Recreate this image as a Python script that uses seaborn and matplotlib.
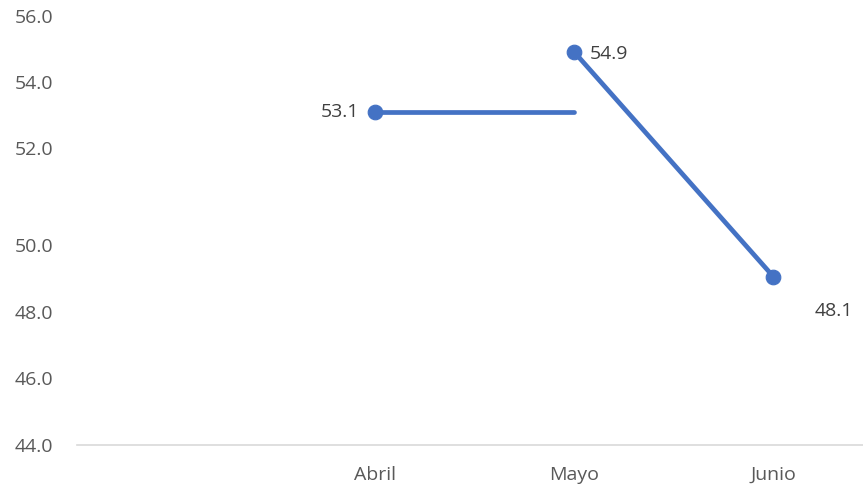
import matplotlib
matplotlib.use("Agg")
import matplotlib.pyplot as plt
import seaborn as sns
import pandas as pd

# datos del grafico
categorias = ["", "Abril", "Mayo", "Junio"]
meses = ["Abril", "Mayo", "Junio"]
valores = [53.1, 54.9, 48.1]
# etiquetas del eje y tal como aparecen en la imagen
etiquetas_y = ["56.0", "54.0", "52.0", "50.0", "48.0", "46.0", "44.0"]
posiciones_y = [56.0, 54.0, 52.0, 49.06, 47.03, 45.03, 43.0]

azul = "#4472C4"
gris = "#595959"

sns.set_theme(style="white")
plt.rcParams["font.family"] = ["Open Sans", "DejaVu Sans"]

idx = {c: i for i, c in enumerate(categorias)}
x_mes = [idx[m] for m in meses]

# tramo 1: Abril -> Mayo (horizontal al valor de Abril), tramo 2: Mayo -> Junio
df = pd.DataFrame({
    "x": [x_mes[0], x_mes[1], x_mes[1], x_mes[2]],
    "y": [valores[0], valores[0], valores[1], valores[2]],
    "tramo": ["a", "a", "b", "b"],
})

fig = plt.figure(figsize=(8.63, 4.88), dpi=100)
ax = fig.add_axes([77 / 863, 43 / 488, 1 - 77 / 863, 1 - 43 / 488])

sns.lineplot(data=df, x="x", y="y", units="tramo", estimator=None,
             color=azul, linewidth=3.4, ax=ax, legend=False)
sns.scatterplot(x=x_mes, y=valores, color=azul, s=110, edgecolor=azul,
                zorder=5, ax=ax, legend=False)

# etiquetas de datos
ax.annotate(f"{valores[0]:.1f}", (x_mes[0], valores[0]), xytext=(-12, 0),
            textcoords="offset points", ha="right", va="center", fontsize=14, color="#404040")
ax.annotate(f"{valores[1]:.1f}", (x_mes[1], valores[1]), xytext=(11, -1),
            textcoords="offset points", ha="left", va="center", fontsize=14, color="#404040")
ax.annotate(f"{valores[2]:.1f}", (x_mes[2], valores[2]), xytext=(30, -25),
            textcoords="offset points", ha="left", va="center", fontsize=14, color="#404040")

ax.set_xlim(-0.5, 3.45)
ax.set_ylim(43.0, 56.485)
ax.set_xticks(range(len(categorias)))
ax.set_xticklabels(categorias)
ax.set_yticks(posiciones_y)
ax.set_yticklabels(etiquetas_y)
ax.tick_params(axis="y", length=0, pad=17, labelsize=14, labelcolor=gris)
ax.tick_params(axis="x", length=0, pad=15, labelsize=14, labelcolor=gris)
ax.set_xlabel("")
ax.set_ylabel("")

for lado in ["top", "right", "left"]:
    ax.spines[lado].set_visible(False)
ax.spines["bottom"].set_color("#D9D9D9")
ax.spines["bottom"].set_linewidth(1.2)
ax.grid(False)

fig.savefig("out.png", dpi=100)
